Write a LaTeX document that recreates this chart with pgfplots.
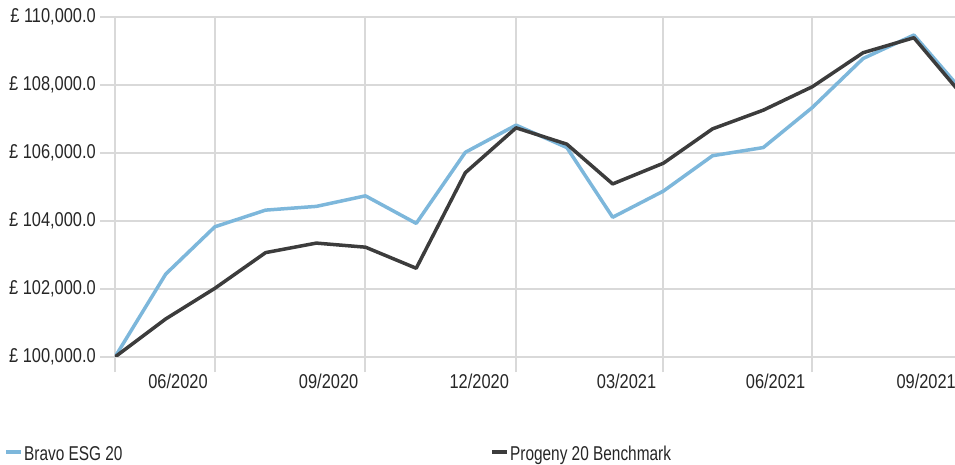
\documentclass[border=0pt]{standalone}
\usepackage{fontspec}
\setmainfont[FakeStretch=0.82]{Liberation Sans}
\newfontfamily\legfont[FakeStretch=0.77]{Liberation Sans}
\usepackage{pgfplots}
\pgfplotsset{compat=1.18}
\definecolor{bravo}{HTML}{7DB7DB}
\definecolor{prog}{HTML}{3C3C3C}
\definecolor{gridc}{HTML}{D9D9D9}
\definecolor{txt}{HTML}{262626}
\begin{document}
\begin{tikzpicture}[x=1pt,y=1pt]
\begin{axis}[
  at={(0,0)}, anchor=south west,
  scale only axis, width=848pt, height=340pt,
  xmin=0, xmax=518, ymin=100000, ymax=110000,
  axis line style={draw=none},
  grid=major, grid style={gridc, line width=2pt},
  major tick style={gridc, line width=2pt},
  tick align=outside, major tick length=15pt,
  xtick pos=bottom, ytick pos=left,
  xtick={0,61,153,245,335,426,518},
  xticklabels={,06/2020,09/2020,12/2020,03/2021,06/2021,09/2021},
  ytick={100000,102000,104000,106000,108000,110000},
  scaled y ticks=false,
  /pgf/number format/assume math mode=true,
  yticklabel={£ \pgfmathprintnumber[fixed,fixed zerofill,precision=1,1000 sep={,}]{\tick}},
  ticklabel style={font=\fontsize{20}{22}\selectfont, text=txt},
  xticklabel style={anchor=north east, xshift=-5pt, inner sep=2pt},
  yticklabel style={inner sep=4pt},
  legend columns=2,
  legend cell align=left,
  legend style={at={(-0.131,-0.285)}, anchor=west, draw=none, fill=none,
    font=\legfont\fontsize{20}{22}\selectfont, text=txt, inner sep=0pt,
    nodes={inner sep=1pt}},
  legend image code/.code={\draw[#1, line width=4pt] (0pt,2pt) -- (15pt,2pt);},
]
\addplot[bravo, line width=3.5pt, line join=round] coordinates {
(0,100000) (31,102440) (61,103830) (92,104320) (123,104430) (153,104740)
(184,103930) (214,106020) (245,106820) (276,106160) (304,104110)
(335,104880) (365,105920) (396,106160) (426,107340) (457,108780)
(488,109470) (518,107800)};
\addlegendentry{\makebox[465pt][l]{Bravo ESG 20}}
\addplot[prog, line width=3.5pt, line join=round] coordinates {
(0,100000) (31,101120) (61,102020) (92,103070) (123,103350) (153,103230)
(184,102610) (214,105420) (245,106740) (276,106260) (304,105090)
(335,105700) (365,106710) (396,107260) (426,107950) (457,108950)
(488,109390) (518,107675)};
\addlegendentry{Progeny 20 Benchmark}
\end{axis}
\pgfresetboundingbox
\path[use as bounding box] (-115pt,-108pt) rectangle (840pt,357pt);
\end{tikzpicture}
\end{document}
